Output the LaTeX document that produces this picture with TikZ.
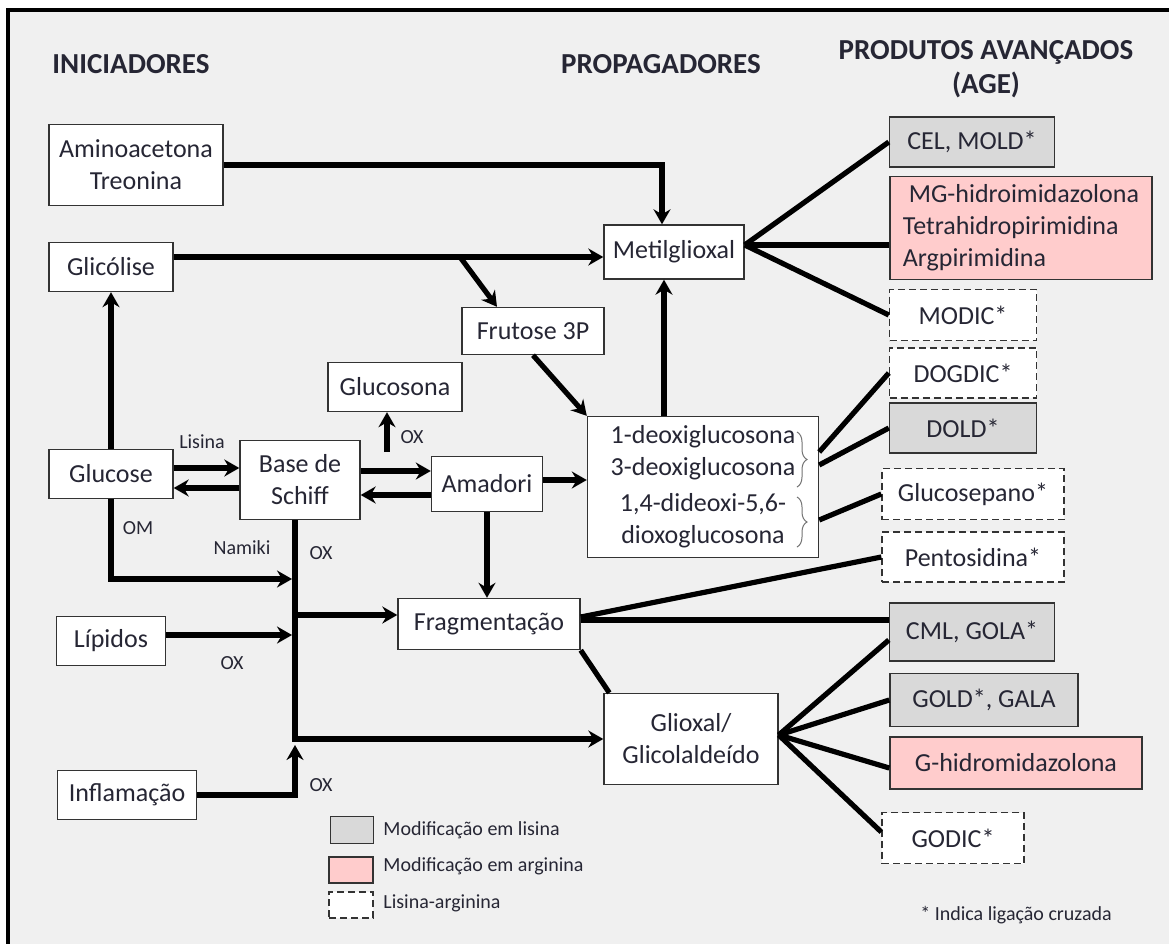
\documentclass[tikz,border=0pt]{standalone}
\usepackage{fontspec}
\setmainfont{Carlito}
\usetikzlibrary{arrows.meta,decorations.pathreplacing}
\definecolor{fundo}{HTML}{F0F0F0}
\definecolor{cinza}{HTML}{D9D9D9}
\definecolor{rosa}{HTML}{FFCCCC}
\definecolor{texto}{HTML}{262634}

\begin{document}
\begin{tikzpicture}[x=0.5pt,y=-0.5pt,
    box/.style={draw=black!80, line width=0.7pt, fill=white, inner sep=1pt, align=center,
      text=texto, minimum height=24.5pt, font=\fontsize{13}{16}\selectfont},
    lis/.style={box, fill=cinza},
    arg/.style={box, fill=rosa},
    lisarg/.style={box, dash pattern=on 3.5pt off 2pt},
    head/.style={text=texto, font=\bfseries\fontsize{14.5}{17}\selectfont, align=center},
    tag/.style={text=texto, font=\fontsize{10}{12}\selectfont, inner sep=0pt},
    seta/.style={line width=2.6pt, -{Stealth[length=7.5pt,width=8.5pt,inset=2.5pt]}},
    setagrossa/.style={seta, line width=3.3pt},
    liga/.style={line width=2.6pt},
    ligagrossa/.style={line width=3.3pt}]
    % fundo e moldura
    \useasboundingbox (0,0) rectangle (1169,944);
    \fill[white] (0,0) rectangle (1169,944);
    \fill[fundo] (8,10) rectangle (1169,944);
    \draw[line width=1.8pt] (1169,10) -- (8,10) -- (8,944);
    \node(hini) at (131,64) [head] {INICIADORES};
    \node(hprop) at (661,64) [head] {PROPAGADORES};
    \node(hage) at (986,69) [head] {PRODUTOS AVANÇADOS\\(AGE)};
    % iniciadores
    \node(amino) at (136,165) [box, minimum width=87pt, minimum height=40.5pt] {Aminoacetona\\Treonina};
    \node(glicolise) at (111,267) [box, minimum width=62pt] {Glicólise};
    \node(glucose) at (111,474) [box, minimum width=62pt] {Glucose};
    \node(lipidos) at (111,641) [box, minimum width=54.5pt] {Lípidos};
    \node(inflam) at (127,795) [box, minimum width=69.5pt] {Inflamação};
    % propagadores
    \node(schiff) at (300,480) [box, minimum width=60pt, minimum height=39.5pt] {Base de\\Schiff};
    \node(glucosona) at (395,387) [box, minimum width=67pt] {Glucosona};
    \node(amadori) at (487,484) [box, minimum width=55.5pt, minimum height=27.5pt] {Amadori};
    \node(frutose) at (533,331) [box, minimum width=71pt, minimum height=23.5pt] {Frutose 3P};
    \node(metil) at (674,252) [box, minimum width=70pt, minimum height=27pt] {Metilglioxal};
    \node(deoxi) at (703,487) [box, minimum width=115.5pt, minimum height=70.5pt]
      {1-deoxiglucosona\\3-deoxiglucosona\\[2pt]1,4-dideoxi-5,6-\\dioxoglucosona};
    \node(frag) at (489,624) [box, minimum width=91pt, minimum height=25.5pt] {Fragmentação};
    \node(glioxal) at (691,739) [box, minimum width=87pt, minimum height=45.5pt] {Glioxal/\\Glicolaldeído};
    % produtos avancados
    \node(cel) at (972,142) [lis, minimum width=82.5pt, minimum height=25pt] {CEL, MOLD*};
    \node(mgh) at (1021,228) [arg, minimum width=131pt, minimum height=51.5pt, align=left]
      {\ MG-hidroimidazolona\\Tetrahidropirimidina\\Argpirimidina};
    \node(modic) at (963,315) [lisarg, minimum width=73.5pt, minimum height=25.5pt] {MODIC*};
    \node(dogdic) at (963,373) [lisarg, minimum width=73.5pt, minimum height=25pt] {DOGDIC*};
    \node(dold) at (963,428) [lis, minimum width=73.5pt, minimum height=25pt] {DOLD*};
    \node(glucosepano) at (973,494) [lisarg, minimum width=91pt, minimum height=25.5pt] {Glucosepano*};
    \node(pentosidina) at (973,557) [lisarg, minimum width=91pt, minimum height=25pt] {Pentosidina*};
    \node(cml) at (972,632) [lis, minimum width=82.5pt, minimum height=29pt] {CML, GOLA*};
    \node(gold) at (984,700) [lis, minimum width=94pt, minimum height=26.5pt] {GOLD*, GALA};
    \node(ghidro) at (1016,763) [arg, minimum width=126pt, minimum height=26pt] {G-hidromidazolona};
    \node(godic) at (953,838) [lisarg, minimum width=71pt, minimum height=25.5pt] {GODIC*};
    % chavetas
    \draw[decorate, decoration={brace, amplitude=5pt}, draw=black!55, line width=0.5pt] (797,432) -- (797,487);
    \draw[decorate, decoration={brace, amplitude=5pt}, draw=black!55, line width=0.5pt] (797,497) -- (797,547);
    % rotulos
    \node(lisina) at (202,442) [tag] {Lisina};
    \node(om) at (138,528) [tag] {OM};
    \node(namiki) at (242,548) [tag] {Namiki};
    \node(oxschiff) at (321,553) [tag] {OX};
    \node(oxlip) at (232,663) [tag] {OX};
    \node(oxinfl) at (321,785) [tag] {OX};
    \node(oxglc) at (412,437) [tag] {OX};
    % pontos de juncao
    \coordinate (trunk) at (295,600);
    \coordinate (omfim) at (292,579);
    \coordinate (inflfim) at (295,745);
    \coordinate (fork) at (460,257);
    \coordinate (glcini) at (387,452);
    % setas
    \draw[setagrossa] (amino.east) -| ([xshift=-6pt]metil.north);
    \draw[seta] ([yshift=5pt]glicolise.east) -- ([yshift=5pt]glicolise.east -| metil.west);
    \draw[seta] (fork) -- ([xshift=-18pt]frutose.north);
    \draw[seta] (frutose.south) -- (deoxi.north west);
    \draw[seta] ([xshift=-5pt]metil.south |- deoxi.north) -- ([xshift=-5pt]metil.south);
    \draw[seta] (glucose.north) -- (glicolise.south);
    \draw[seta] ([yshift=3pt]glucose.east) -- ([yshift=3pt]glucose.east -| schiff.west);
    \draw[seta] ([yshift=-7pt]glucose.east -| schiff.west) -- ([yshift=-7pt]glucose.east);
    \draw[seta] ([yshift=4.5pt]schiff.east) -- ([yshift=4.5pt]schiff.east -| amadori.west);
    \draw[seta] ([yshift=-7.5pt]schiff.east -| amadori.west) -- ([yshift=-7.5pt]schiff.east);
    \draw[seta] (glcini) -- (glcini |- glucosona.south);
    \draw[seta] ([yshift=2pt]amadori.east) -- ([yshift=2pt]amadori.east -| deoxi.west);
    \draw[seta] (amadori.south) -- (amadori.south |- frag.north);
    \draw[setagrossa] ([xshift=-2.5pt]schiff.south) |- (glioxal.west);
    \draw[seta] ([yshift=4.5pt]frag.west -| trunk) -- ([yshift=4.5pt]frag.west);
    \draw[seta] (glucose.south) |- (omfim);
    \draw[seta] ([yshift=3pt]lipidos.east) -- ([yshift=3pt]lipidos.east -| omfim);
    \draw[setagrossa] (inflam.east) -| (inflfim);
    % ligacoes aos AGE
    \draw[liga] ([yshift=3.5pt]metil.east) -- (cel.west);
    \draw[ligagrossa] ([yshift=3.5pt]metil.east) -- ([yshift=3.5pt]metil.east -| mgh.west);
    \draw[liga] ([yshift=3.5pt]metil.east) -- (modic.west);
    \draw[liga] ([yshift=17.5pt]deoxi.east) -- (dogdic.west);
    \draw[liga] ([yshift=11pt]deoxi.east) -- (dold.west);
    \draw[liga] ([yshift=-16.5pt]deoxi.east) -- (glucosepano.west);
    \draw[liga] ([yshift=3.5pt]frag.east) -- (pentosidina.west);
    \draw[ligagrossa] ([yshift=2pt]frag.east) -- ([yshift=2pt]frag.east -| cml.west);
    \draw[liga] (frag.south east) -- ([xshift=3pt]glioxal.north west);
    \draw[liga] ([yshift=2pt]glioxal.east) -- ([yshift=-4pt]cml.west);
    \draw[liga] ([yshift=2pt]glioxal.east) -- (gold.west);
    \draw[liga] ([yshift=2pt]glioxal.east) -- ([yshift=-2.5pt]ghidro.west);
    \draw[liga] ([yshift=2pt]glioxal.east) -- ([yshift=3pt]godic.west);
    % legenda
    \node(leglis) at (352,830) [lis, minimum width=21.5pt, minimum height=13.5pt] {};
    \node(legarg) at (351,870) [arg, minimum width=22pt, minimum height=13pt] {};
    \node(legla) at (351,905) [lisarg, minimum width=22pt, minimum height=13pt] {};
    \node(tlis) at (383,830) [tag, anchor=west] {Modificação em lisina};
    \node(targ) at (383,866) [tag, anchor=west] {Modificação em arginina};
    \node(tla) at (383,903) [tag, anchor=west] {Lisina-arginina};
    \node(nota) at (1016,915) [tag] {* Indica ligação cruzada};
\end{tikzpicture}
\end{document}
